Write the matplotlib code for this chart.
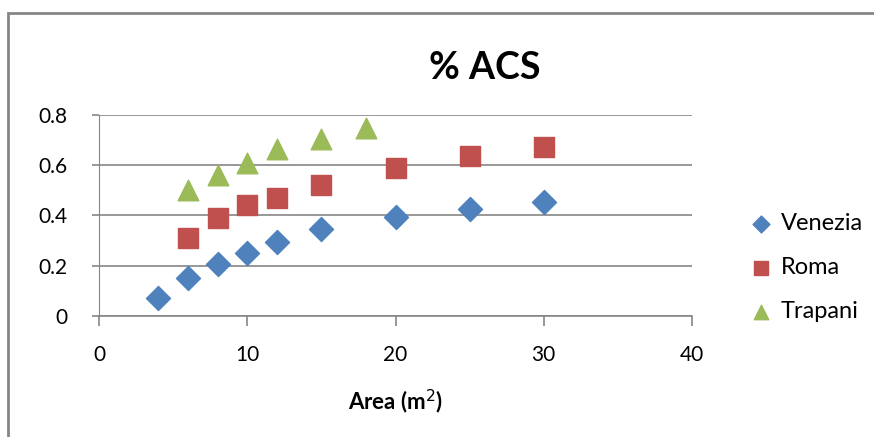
import matplotlib.pyplot as plt
from matplotlib.patches import Rectangle

# data
venezia_x = [4, 6, 8, 10, 12, 15, 20, 25, 30]
venezia_y = [0.072, 0.15, 0.205, 0.25, 0.295, 0.345, 0.395, 0.425, 0.452]
roma_x = [6, 8, 10, 12, 15, 20, 25, 30]
roma_y = [0.31, 0.39, 0.44, 0.47, 0.52, 0.59, 0.635, 0.673]
trapani_x = [6, 8, 10, 12, 15, 18]
trapani_y = [0.50, 0.56, 0.61, 0.665, 0.705, 0.75]

x_ticks = [0, 10, 20, 30, 40]
y_ticks = [0, 0.2, 0.4, 0.6, 0.8]
y_labels = ["0", "0.2", "0.4", "0.6", "0.8"]

plt.rcParams['font.family'] = ['Lato', 'DejaVu Sans']

fig = plt.figure(figsize=(8.74, 4.37), dpi=100)
ax = fig.add_axes([99 / 874, 1 - 316 / 437, (692 - 99) / 874, (316 - 115) / 437])

# outer chart frame
fig.patches.append(Rectangle((8 / 874, -0.1), 1.2, 1 - 13 / 437 + 0.1,
                             transform=fig.transFigure, fill=False,
                             edgecolor='#868686', linewidth=2))

ax.scatter(venezia_x, venezia_y, marker='D', s=150, color='#4F81BD', label='Venezia', zorder=3)
ax.scatter(roma_x, roma_y, marker='s', s=190, color='#C0504D', label='Roma', zorder=3)
ax.scatter(trapani_x, trapani_y, marker='^', s=220, color='#9BBB59', label='Trapani', zorder=3)

ax.set_xlim(0, 40)
ax.set_ylim(0, 0.8)
ax.set_xticks(x_ticks)
ax.set_yticks(y_ticks)
ax.set_yticklabels(y_labels)
ax.grid(axis='y', color='#868686', linewidth=1.2)
ax.set_axisbelow(True)

for s in ['top', 'right']:
    ax.spines[s].set_visible(False)
ax.spines['left'].set_color('#868686')
ax.spines['bottom'].set_color('#868686')
ax.spines['bottom'].set_linewidth(1.2)

ax.tick_params(axis='x', direction='out', length=7, width=1.2, color='#868686',
               pad=14, labelsize=15)
ax.tick_params(axis='y', direction='out', length=5, width=1.2, color='#868686',
               pad=18, labelsize=15)

ax.set_xlabel('Area (m$^2$)', fontsize=16, fontweight='bold', labelpad=16)

fig.text(485 / 874, 1 - 68 / 437, '% ACS', ha='center', va='center',
         fontsize=27, fontweight='bold')

ax.legend(loc='center left', bbox_to_anchor=(1.04, 0.24), frameon=False,
          fontsize=17, handletextpad=-0.15, labelspacing=0.98, scatterpoints=1,
          markerscale=0.7)

fig.savefig('out.png', dpi=100)
